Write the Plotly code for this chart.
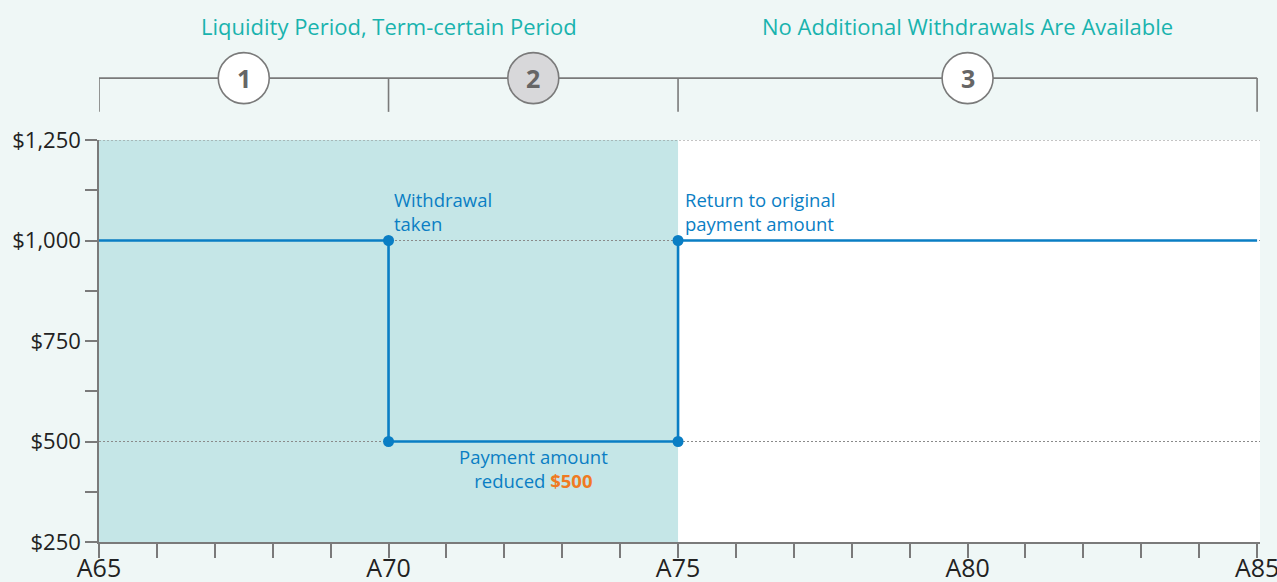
import plotly.graph_objects as go

# ---- data ----
ages = [65, 70, 70, 75, 75, 85]
payments = [1000, 1000, 500, 500, 1000, 1000]
marker_ages = [70, 70, 75, 75]
marker_payments = [1000, 500, 500, 1000]

x_tick_vals = [65, 70, 75, 80, 85]
x_tick_text = ["A65", "A70", "A75", "A80", "A85"]
y_tick_vals = [250, 500, 750, 1000, 1250]
y_tick_text = ["$250", "$500", "$750", "$1,000", "$1,250"]
grid_values = [500, 1000, 1250]

period_bounds = [65, 70, 75, 85]
period_labels = ["1", "2", "3"]
period_centers = [67.5, 72.5, 80]
header_texts = ["Liquidity Period, Term-certain Period", "No Additional Withdrawals Are Available"]
header_centers = [70, 80]
shaded_range = [65, 75]

FONT = "Open Sans"
BLUE = "#0A7EC4"
TEAL_TXT = "#19B3AE"
GRAY = "#7A7A7A"
X_MAX = 85.05

fig = go.Figure()

fig.add_trace(go.Scatter(
    x=ages, y=payments, mode="lines",
    line=dict(color=BLUE, width=2.6), hoverinfo="skip", showlegend=False))
fig.add_trace(go.Scatter(
    x=marker_ages, y=marker_payments, mode="markers",
    marker=dict(color=BLUE, size=11), hoverinfo="skip", showlegend=False,
    cliponaxis=False))

shapes = []
shapes.append(dict(type="rect", xref="x", yref="y", x0=shaded_range[0], x1=shaded_range[1],
                   y0=250, y1=1250, fillcolor="#C5E6E7", line=dict(width=0), layer="below"))
for g in grid_values:
    shapes.append(dict(type="line", xref="x", yref="y", x0=period_bounds[0], x1=X_MAX, y0=g, y1=g,
                       line=dict(color="#8A8A8A", width=1.2, dash="2px,2px"), layer="below"))

TOP = 1.154
TICKB = 1.07
shapes.append(dict(type="line", xref="x", yref="paper", x0=period_bounds[0], x1=period_bounds[-1],
                   y0=TOP, y1=TOP, line=dict(color=GRAY, width=1.6)))
for b in period_bounds:
    shapes.append(dict(type="line", xref="x", yref="paper", x0=b, x1=b, y0=TOP, y1=TICKB,
                       line=dict(color=GRAY, width=1.6)))
annotations = []
for i, (c, lab) in enumerate(zip(period_centers, period_labels)):
    shapes.append(dict(type="circle", xref="x", yref="paper", xsizemode="pixel", ysizemode="pixel",
                       xanchor=c, yanchor=TOP, x0=-25.5, x1=25.5, y0=-25.5, y1=25.5,
                       fillcolor="#D8D8DA" if i == 1 else "white",
                       line=dict(color=GRAY, width=1.6)))
    annotations.append(dict(x=c, y=TOP, xref="x", yref="paper", text=f"<b>{lab}</b>",
                            showarrow=False, font=dict(family=FONT, size=25, color="#666666"),
                            xanchor="center", yanchor="middle"))

for t, c in zip(header_texts, header_centers):
    annotations.append(dict(x=c, y=1.284, xref="x", yref="paper", text=t, showarrow=False,
                            font=dict(family=FONT, size=22, color=TEAL_TXT),
                            xanchor="center", yanchor="middle"))

ann_font = dict(family=FONT, size=18.5, color=BLUE)
annotations.append(dict(x=70, y=1000, xref="x", yref="y", text="Withdrawal<br>taken",
                        showarrow=False, xanchor="left", yanchor="bottom", align="left",
                        xshift=3, yshift=3, font=ann_font))
annotations.append(dict(x=75, y=1000, xref="x", yref="y", text="Return to original<br>payment amount",
                        showarrow=False, xanchor="left", yanchor="bottom", align="left",
                        xshift=5, yshift=3, font=ann_font))
annotations.append(dict(x=72.5, y=500, xref="x", yref="y",
                        text="Payment amount<br>reduced <b><span style='color:#F07A22'>$500</span></b>",
                        showarrow=False, xanchor="center", yanchor="top", align="center",
                        yshift=0, font=ann_font))

fig.update_layout(
    width=1277, height=582,
    margin=dict(l=99, r=17, t=140, b=40, autoexpand=False),
    paper_bgcolor="#EFF7F6", plot_bgcolor="white",
    shapes=shapes, annotations=annotations,
    showlegend=False,
    xaxis=dict(range=[65, X_MAX], tickvals=x_tick_vals, ticktext=x_tick_text,
               ticks="outside", ticklen=14, tickwidth=1.5, tickcolor=GRAY,
               minor=dict(dtick=1, tick0=65, ticks="outside", ticklen=14, tickwidth=1.5, tickcolor=GRAY),
               showline=True, linecolor=GRAY, linewidth=1.5, showgrid=False, zeroline=False,
               automargin=False, ticklabelstandoff=-11, ticklabeloverflow="allow",
               tickfont=dict(family=FONT, size=25, color="#222222"), fixedrange=True),
    yaxis=dict(range=[250, 1250], tickvals=y_tick_vals, ticktext=y_tick_text,
               ticks="outside", ticklen=12, tickwidth=1.5, tickcolor=GRAY,
               minor=dict(dtick=125, tick0=250, ticks="outside", ticklen=12, tickwidth=1.5, tickcolor=GRAY),
               showline=True, linecolor=GRAY, linewidth=1.5, showgrid=False, zeroline=False,
               automargin=False,
               tickfont=dict(family=FONT, size=22, color="#222222"), fixedrange=True),
)

fig.write_html("out.html", config={"displayModeBar": False},
               post_script="document.body.style.margin='0';document.body.style.overflow='hidden';")
